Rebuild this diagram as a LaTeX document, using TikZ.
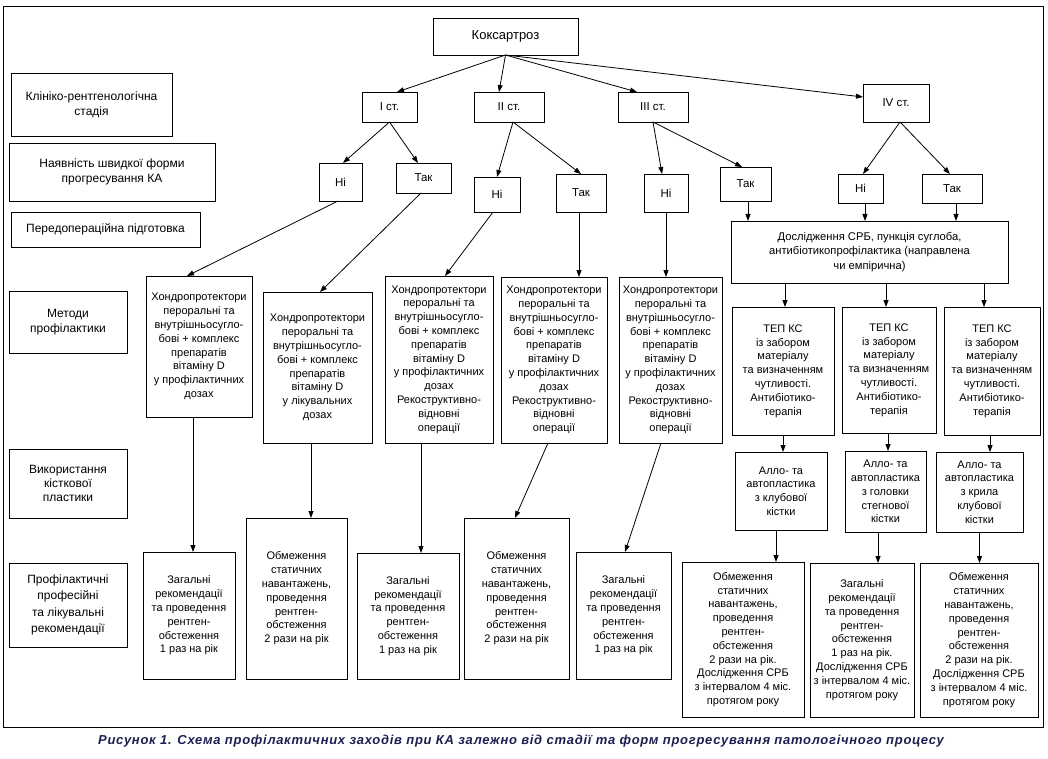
\documentclass[tikz,border=0pt]{standalone}
\usepackage{fontspec}
\setmainfont{Liberation Sans}
\newfontfamily\capfont[LetterSpace=5.5]{Liberation Sans}
\usetikzlibrary{arrows.meta}
\definecolor{capcol}{RGB}{28,32,80}
\tikzset{
 box/.style={draw, line width=0.9pt, inner sep=0pt, outer sep=0pt, align=center, font=\fontsize{11}{13.8}\selectfont},
 lab/.style={font=\fontsize{12}{15}\selectfont},
 arr/.style={line width=0.8pt, -{Triangle[length=7pt,width=5pt]}},
}
\newcommand\Bx[7][]{\node[box,#1,minimum width={#5-#3},minimum height={#6-#4}] (#2) at ({(#3+#5)/2},{(#4+#6)/2}) {#7};}
\begin{document}
\begin{tikzpicture}[x=1pt,y=-1pt]
\useasboundingbox (0,0) rectangle (1048,759);
\draw[line width=0.9pt] (3,6) rectangle (1043,727);
% left labels
\Bx[lab]{L1}{11}{73}{172}{136}{Клініко-рентгенологічна\\стадія}
\Bx[lab]{L2}{9}{143}{215}{201}{Наявність швидкої форми\\прогресування КА}
\Bx[lab]{L3}{11}{212}{200}{247}{Передопераційна підготовка}
\Bx[lab,font=\fontsize{12}{15.7}\selectfont]{L4}{9}{291}{127}{353}{Методи\\профілактики}
\Bx[lab,font=\fontsize{12}{14.3}\selectfont]{L5}{9}{449}{127}{518}{Використання\\кісткової\\пластики}
\Bx[lab,font=\fontsize{12}{16.5}\selectfont]{L6}{9}{563}{127}{647}{Профілактичні\\професійні\\та лікувальні\\рекомендації}
% top
\Bx[font=\fontsize{13}{15}\selectfont]{K}{433}{18}{578}{55}{Коксартроз}
\Bx[font=\fontsize{11.5}{14}\selectfont]{S1}{362}{92}{417}{122}{I ст.}
\Bx[font=\fontsize{11.5}{14}\selectfont]{S2}{474}{92}{544}{122}{II ст.}
\Bx[font=\fontsize{11.5}{14}\selectfont]{S3}{618}{92}{688}{122}{III ст.}
\Bx[font=\fontsize{11.5}{14}\selectfont]{S4}{863}{84}{929}{122}{IV ст.}
\Bx[font=\fontsize{11.5}{14}\selectfont]{N1}{319}{163}{362}{201}{Ні}
\Bx[font=\fontsize{11.5}{14}\selectfont]{T1}{396}{163}{451}{193}{Так}
\Bx[font=\fontsize{11.5}{14}\selectfont]{N2}{474}{177}{520}{212}{Ні}
\Bx[font=\fontsize{11.5}{14}\selectfont]{T2}{556}{174}{606}{212}{Так}
\Bx[font=\fontsize{11.5}{14}\selectfont]{N3}{644}{174}{688}{212}{Ні}
\Bx[font=\fontsize{11.5}{14}\selectfont]{T3}{720}{167}{771}{201}{Так}
\Bx[font=\fontsize{11.5}{14}\selectfont]{N4}{838}{174}{883}{203}{Ні}
\Bx[font=\fontsize{11.5}{14}\selectfont]{T4}{922}{174}{982}{203}{Так}
\Bx[font=\fontsize{11.2}{14.5}\selectfont]{D}{731}{221}{1008}{283}{Дослідження СРБ, пункція суглоба,\\антибіотикопрофілактика (направлена\\чи емпірична)}
% methods
\Bx{M1}{146}{276}{252}{417}{Хондропротектори\\пероральні та\\внутрішньосугло-\\бові + комплекс\\препаратів\\вітаміну D\\у профілактичних\\дозах}
\Bx{M2}{263}{292}{372}{443}{Хондропротектори\\пероральні та\\внутрішньосугло-\\бові + комплекс\\препаратів\\вітаміну D\\у лікувальних\\дозах}
\Bx{M3}{385}{276}{493}{443}{Хондропротектори\\пероральні та\\внутрішньосугло-\\бові + комплекс\\препаратів\\вітаміну D\\у профілактичних\\дозах\\Рекоструктивно-\\відновні\\операції}
\Bx{M4}{501}{277}{607}{443}{Хондропротектори\\пероральні та\\внутрішньосугло-\\бові + комплекс\\препаратів\\вітаміну D\\у профілактичних\\дозах\\Рекоструктивно-\\відновні\\операції}
\Bx{M5}{619}{277}{722}{443}{Хондропротектори\\пероральні та\\внутрішньосугло-\\бові + комплекс\\препаратів\\вітаміну D\\у профілактичних\\дозах\\Рекоструктивно-\\відновні\\операції}
\Bx{P1}{732}{307}{834}{435}{ТЕП КС\\із забором\\матеріалу\\та визначенням\\чутливості.\\Антибіотико-\\терапія}
\Bx{P2}{842}{307}{936}{433}{ТЕП КС\\із забором\\матеріалу\\та визначенням\\чутливості.\\Антибіотико-\\терапія}
\Bx{P3}{944}{307}{1040}{435}{ТЕП КС\\із забором\\матеріалу\\та визначенням\\чутливості.\\Антибіотико-\\терапія}
% bone plastics
\Bx{A1}{735}{452}{827}{530}{Алло- та\\автопластика\\з клубової\\кістки}
\Bx{A2}{845}{451}{926}{532}{Алло- та\\автопластика\\з головки\\стегнової\\кістки}
\Bx{A3}{936}{452}{1023}{532}{Алло- та\\автопластика\\з крила\\клубової\\кістки}
% recommendations
\Bx{R1}{143}{552}{235}{679}{Загальні\\рекомендації\\та проведення\\рентген-\\обстеження\\1 раз на рік}
\Bx{R2}{246}{518}{347}{679}{Обмеження\\статичних\\навантажень,\\проведення\\рентген-\\обстеження\\2 рази на рік}
\Bx{R3}{357}{553}{459}{679}{Загальні\\рекомендації\\та проведення\\рентген-\\обстеження\\1 раз на рік}
\Bx{R4}{464}{518}{569}{679}{Обмеження\\статичних\\навантажень,\\проведення\\рентген-\\обстеження\\2 рази на рік}
\Bx{R5}{576}{552}{671}{679}{Загальні\\рекомендації\\та проведення\\рентген-\\обстеження\\1 раз на рік}
\Bx{B1}{682}{562}{804}{717}{Обмеження\\статичних\\навантажень,\\проведення\\рентген-\\обстеження\\2 рази на рік.\\Дослідження СРБ\\з інтервалом 4 міс.\\протягом року}
\Bx{B2}{810}{563}{914}{717}{Загальні\\рекомендації\\та проведення\\рентген-\\обстеження\\1 раз на рік.\\Дослідження СРБ\\з інтервалом 4 міс.\\протягом року}
\Bx{B3}{920}{563}{1038}{717}{Обмеження\\статичних\\навантажень,\\проведення\\рентген-\\обстеження\\2 рази на рік.\\Дослідження СРБ\\з інтервалом 4 міс.\\протягом року}
% caption
\node[font={\capfont\fontsize{13}{15}\selectfont\bfseries\itshape}, text=capcol, anchor=west, inner sep=0pt] (cap) at (98,741) {Рисунок 1. Схема профілактичних заходів при КА залежно від стадії та форм прогресування патологічного процесу};
% connectors
\draw[arr] (K.south) -- ([xshift=7.5pt]S1.north);
\draw[arr] (K.south) -- ([xshift=-10pt]S2.north);
\draw[arr] (K.south) -- ([xshift=-16pt]S3.north);
\draw[arr] (K.south) -- ([yshift=6pt]S4.west);
\draw[arr] (S1.south) -- ([xshift=2.5pt]N1.north);
\draw[arr] (S1.south) -- ([xshift=-5.5pt]T1.north);
\draw[arr] ([xshift=4pt]S2.south) -- (N2.north);
\draw[arr] ([xshift=4pt]S2.south) -- (T2.north);
\draw[arr] (S3.south) -- ([xshift=-4pt]N3.north);
\draw[arr] (S3.south) -- ([xshift=-3.5pt]T3.north);
\draw[arr] ([xshift=4pt]S4.south) -- ([xshift=2.5pt]N4.north);
\draw[arr] ([xshift=4pt]S4.south) -- ([xshift=-2pt]T4.north);
\draw[arr] ([xshift=-2.5pt]N1.south) -- ([xshift=-12pt]M1.north);
\draw[arr] ([xshift=-2.5pt]T1.south) -- ([xshift=2.5pt]M2.north);
\draw[arr] ([xshift=-4pt]N2.south) -- ([xshift=6pt]M3.north);
\draw[arr] ([xshift=-2pt]T2.south) -- ([xshift=-2pt]T2.south |- M4.north);
\draw[arr] (N3.south) -- (N3.south |- M5.north);
\draw[arr] ([xshift=2.5pt]T3.south) -- ([xshift=2.5pt]T3.south |- D.north);
\draw[arr] ([xshift=4.5pt]N4.south) -- ([xshift=4.5pt]N4.south |- D.north);
\draw[arr] ([xshift=4pt]T4.south) -- ([xshift=4pt]T4.south |- D.north);
\draw[arr] ([xshift=2pt]P1.north |- D.south) -- ([xshift=2pt]P1.north);
\draw[arr] ([xshift=-3pt]P2.north |- D.south) -- ([xshift=-3pt]P2.north);
\draw[arr] ([xshift=-8pt]P3.north |- D.south) -- ([xshift=-8pt]P3.north);
\draw[arr] ([xshift=2pt]A1.north |- P1.south) -- ([xshift=2pt]A1.north);
\draw[arr] ([xshift=2.5pt]A2.north |- P2.south) -- ([xshift=2.5pt]A2.north);
\draw[arr] ([xshift=10.5pt]A3.north |- P3.south) -- ([xshift=10.5pt]A3.north);
\draw[arr] ([xshift=-5pt]A1.south) -- ([xshift=-5pt]A1.south |- B1.north);
\draw[arr] ([xshift=-7.5pt]A2.south) -- ([xshift=-7.5pt]A2.south |- B2.north);
\draw[arr] (A3.south) -- (A3.south |- B3.north);
\draw[arr] ([xshift=-6pt]M1.south) -- ([xshift=-6pt]M1.south |- R1.north);
\draw[arr] ([xshift=-6.5pt]M2.south) -- ([xshift=-6.5pt]M2.south |- R2.north);
\draw[arr] ([xshift=-18pt]M3.south) -- ([xshift=-18pt]M3.south |- R3.north);
\draw[arr] ([xshift=-6pt]M4.south) -- ([xshift=-1.5pt]R4.north);
\draw[arr] ([xshift=-9.5pt]M5.south) -- ([xshift=1.5pt]R5.north);
\end{tikzpicture}
\end{document}
